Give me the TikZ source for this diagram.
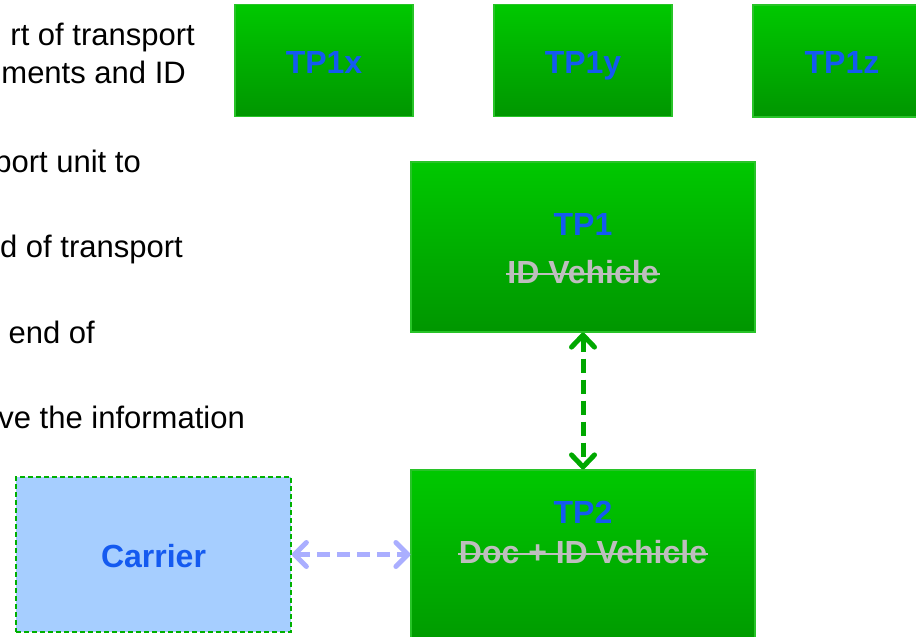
\documentclass[tikz,border=0pt]{standalone}
\usepackage{fontspec}
\setmainfont{Liberation Sans}
\usetikzlibrary{arrows.meta}
\definecolor{gtop}{RGB}{0,200,0}
\definecolor{gbot}{RGB}{0,150,0}
\definecolor{gborder}{RGB}{40,195,40}
\definecolor{lblue}{RGB}{20,90,240}
\definecolor{sgray}{RGB}{190,190,190}
\definecolor{cfill}{RGB}{166,206,255}
\definecolor{cborder}{RGB}{0,176,0}
\definecolor{barrowc}{RGB}{170,174,255}
\definecolor{garrowc}{RGB}{0,168,0}
\tikzset{
  gbox/.style={draw=gborder, line width=1.2pt, top color=gtop, bottom color=gbot, inner sep=0pt},
  cbox/.style={draw=cborder, fill=cfill, line width=1.8pt, dash pattern=on 5pt off 3pt, inner sep=0pt},
  lefttext/.style={anchor=base east, inner sep=0pt, font=\fontsize{31}{37}\selectfont, text=black},
  lbl/.style={anchor=base, inner sep=0pt, font=\fontsize{32}{38}\selectfont\bfseries, text=lblue},
  stk/.style={anchor=base, inner sep=0pt, font=\fontsize{32}{38}\selectfont\bfseries, text=sgray},
  strike/.style={draw=sgray, line width=2pt},
  garrow/.style={draw=garrowc, line width=5pt, dash pattern=on 14pt off 7pt,
    {Straight Barb[length=12pt,width=23pt,round]}-{Straight Barb[length=12pt,width=23pt,round]}},
  barrow/.style={draw=barrowc, line width=5pt, dash pattern=on 13pt off 7pt,
    {Straight Barb[length=12pt,width=24pt,round]}-{Straight Barb[length=12pt,width=24pt,round]}}
}
\begin{document}
\begin{tikzpicture}[x=1pt,y=-1pt]
\useasboundingbox (0,0) rectangle (916,637);
\clip (0,0) rectangle (916,637);
% left text
\node[lefttext] (l1) at (195,45) {rt of transport};
\node[lefttext] (l2) at (186,83) {ments and ID};
\node[lefttext] (l3) at (141,172) {port unit to};
\node[lefttext] (l4) at (183,257) {d of transport};
\node[lefttext] (l5) at (95,343) {end of};
\node[lefttext] (l6) at (245,428) {ve the information};
% top boxes
\node[gbox, minimum width=178pt, minimum height=112pt] (tp1x) at (324,60.5) {};
\node[gbox, minimum width=178pt, minimum height=112pt] (tp1y) at (583,60.5) {};
\node[gbox, minimum width=178pt, minimum height=112pt] (tp1z) at (842,61) {};
\node[lbl] (t1x) at (324,73) {TP1x};
\node[lbl] (t1y) at (583,73) {TP1y};
\node[lbl] (t1z) at (842,73) {TP1z};
% TP1
\node[gbox, minimum width=344pt, minimum height=170pt] (tp1) at (583,247) {};
\node[lbl] (t1a) at (583,235) {TP1};
\node[stk] (t1b) at (583,283) {ID Vehicle};
\draw[strike] ([xshift=-1pt,yshift=9pt]t1b.base west) -- ([xshift=1pt,yshift=9pt]t1b.base east);
% TP2
\node[gbox, minimum width=344pt, minimum height=190pt] (tp2) at (583,565) {};
\node[lbl] (t2a) at (583,523) {TP2};
\node[stk] (t2b) at (583,563) {Doc + ID Vehicle};
\draw[strike] ([xshift=-1pt,yshift=9pt]t2b.base west) -- ([xshift=1pt,yshift=9pt]t2b.base east);
% Carrier
\node[cbox, minimum width=275pt, minimum height=155pt] (carrier) at (153.5,554.5) {};
\node[lbl] (tc) at (153.5,567) {Carrier};
% connectors
\draw[garrow] (tp1.south) -- (tp2.north);
\draw[barrow] (carrier.east) -- (carrier.east -| tp2.west);
\end{tikzpicture}
\end{document}
